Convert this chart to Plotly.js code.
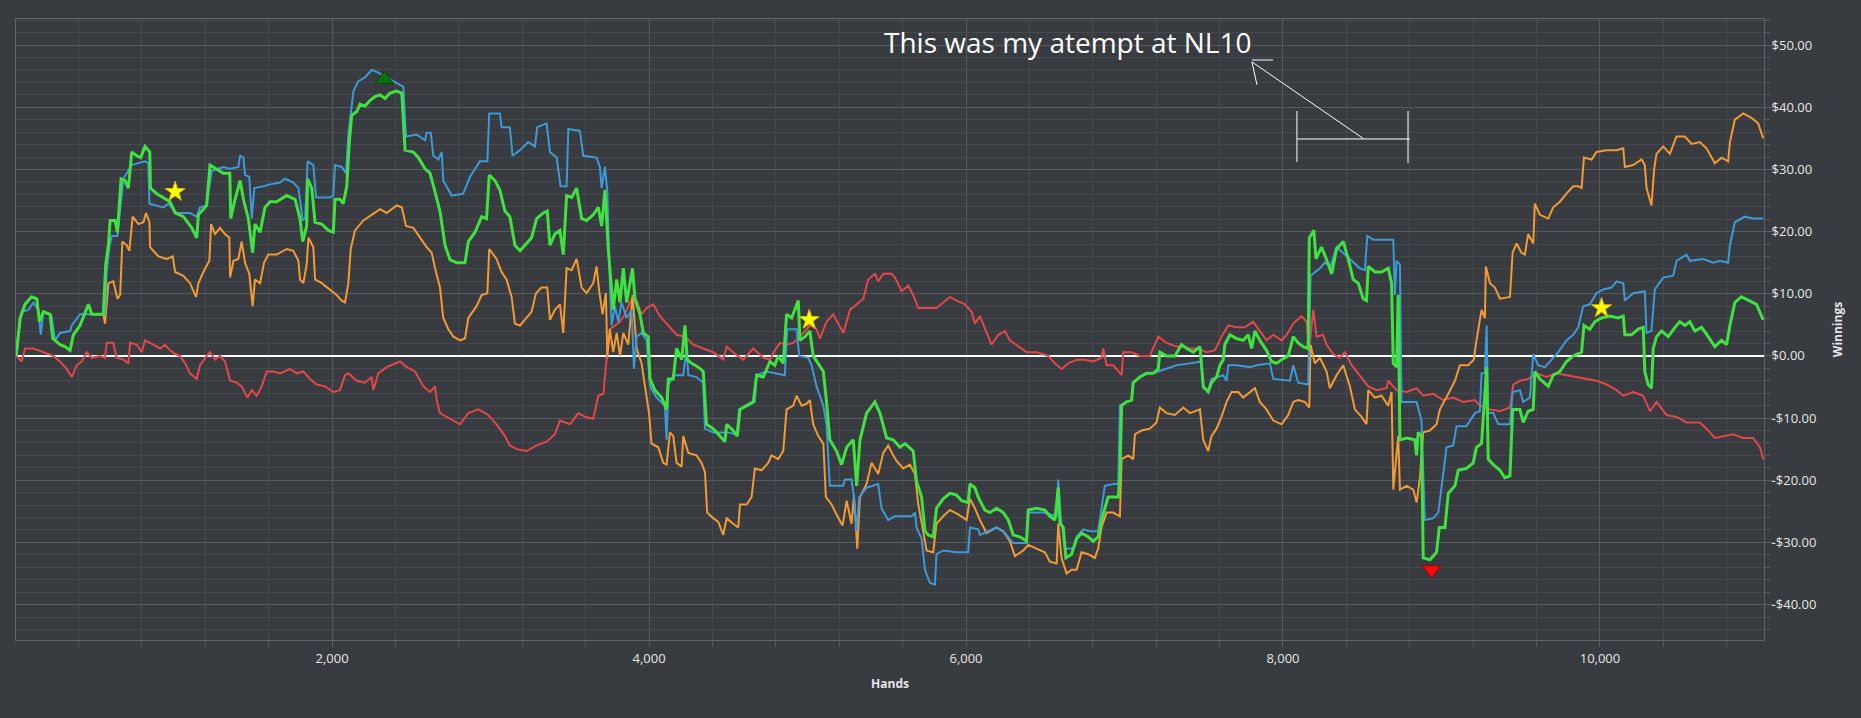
<!DOCTYPE html>
<html>
<head>
<meta charset="utf-8">
<script src="https://cdn.plot.ly/plotly-3.0.1.min.js"></script>
<style>html,body{margin:0;padding:0;background:#383b3f;}#chart{width:1861px;height:718px;}</style>
</head>
<body>
<div id="chart"></div>
<script>
// ---- data (hands, winnings in $) ----
const greenHands = [6,10,32,63,105,137,154,179,221,238,284,315,347,368,410,463,484,526,557,572,589,600,631,646,669,694,715,736,768,793,820,850,854,894,936,978,1010,1062,1115,1146,1157,1209,1230,1272,1314,1355,1361,1388,1420,1441,1472,1499,1514,1546,1577,1609,1651,1714,1767,1798,1815,1840,1846,1872,1893,1935,1977,2008,2019,2050,2071,2093,2109,2124,2156,2177,2208,2240,2271,2303,2334,2366,2408,2440,2461,2513,2545,2587,2618,2650,2681,2713,2744,2786,2839,2860,2902,2944,2975,2992,3028,3059,3091,3122,3154,3186,3228,3259,3291,3333,3358,3375,3406,3438,3459,3480,3512,3543,3575,3606,3648,3680,3701,3722,3743,3764,3774,3796,3817,3838,3859,3896,3911,3943,3964,3995,4006,4037,4080,4111,4122,4153,4174,4206,4227,4241,4269,4311,4342,4363,4405,4447,4479,4490,4531,4557,4574,4616,4658,4679,4721,4763,4794,4815,4847,4868,4900,4942,4952,4984,5015,5036,5068,5100,5120,5141,5183,5215,5247,5289,5310,5331,5373,5425,5457,5499,5541,5583,5615,5667,5688,5720,5741,5762,5793,5814,5856,5899,5941,5972,6014,6025,6056,6077,6119,6151,6193,6235,6267,6298,6340,6382,6393,6445,6498,6529,6561,6582,6593,6614,6630,6666,6698,6729,6771,6803,6834,6855,6876,6897,6961,6971,6982,7013,7045,7055,7097,7139,7181,7213,7223,7265,7318,7360,7392,7434,7476,7497,7528,7549,7581,7602,7623,7633,7665,7707,7749,7781,7802,7823,7854,7896,7928,7960,7991,8033,8065,8096,8128,8159,8166,8195,8208,8243,8275,8307,8338,8380,8412,8443,8475,8506,8527,8538,8580,8622,8664,8685,8696,8717,8727,8738,8780,8832,8843,8853,8874,8885,8927,8969,8986,9022,9043,9085,9106,9158,9200,9221,9253,9264,9285,9295,9327,9369,9400,9432,9449,9495,9516,9547,9579,9589,9621,9674,9705,9747,9789,9831,9884,9899,9936,9968,10010,10063,10115,10147,10157,10199,10241,10273,10283,10304,10325,10336,10357,10389,10431,10473,10504,10536,10567,10599,10641,10683,10725,10767,10799,10820,10851,10893,10946,10988,11030];
const greenWin = [0,0.6,6.1,8.3,9.5,9.2,5.5,7.1,6.7,2.8,1.8,1.5,0.9,3.4,4.9,8.3,6.7,6.7,6.7,14.7,17.8,21.8,21.8,19.9,28.5,28.2,27.0,32.8,32.2,31.9,33.7,32.8,27.0,26.1,25.5,24.8,23.0,22.4,20.6,19.0,22.7,24.2,30.7,30.1,29.4,29.4,22.1,25.2,28.2,25.2,22.1,16.6,21.2,19.9,23.9,24.8,24.8,25.8,25.2,22.1,18.4,20.9,28.5,27.0,21.5,21.2,20.2,19.9,25.2,25.2,24.5,27.3,34.4,38.7,39.3,40.5,40.2,41.1,41.7,42.0,41.4,42.3,42.6,42.3,33.1,32.8,31.9,30.1,29.4,26.4,23.3,17.8,15.5,15.0,15.0,18.4,19.9,22.4,22.1,29.1,28.2,26.7,23.3,22.4,17.8,16.9,18.1,19.0,22.1,23.0,23.3,17.8,19.6,20.2,16.3,25.8,25.5,27.0,22.1,21.8,22.7,23.9,20.9,26.7,17.2,11.0,7.4,12.3,8.6,14.1,8.6,14.1,9.2,6.7,3.7,3.1,-3.7,-5.5,-6.7,-8.6,-3.7,-3.7,1.2,-0.6,4.9,-0.6,-1.2,-1.8,-2.5,-11.0,-11.7,-12.9,-13.8,-11.0,-12.0,-12.9,-8.6,-8.0,-7.4,-3.1,-3.4,-0.9,-1.5,0,-1.2,6.7,6.1,8.9,2.5,3.1,4.0,0,-1.2,-2.5,-7.4,-13.5,-15.3,-17.5,-14.7,-13.5,-20.9,-13.5,-9.2,-7.4,-9.2,-13.2,-13.5,-14.7,-14.1,-15.3,-20.2,-22.7,-28.2,-28.8,-29.1,-24.5,-23.0,-22.1,-22.4,-23.3,-23.6,-20.6,-21.2,-22.7,-24.8,-25.2,-24.5,-25.2,-26.4,-28.8,-29.1,-29.8,-24.8,-24.5,-24.8,-25.8,-26.4,-21.2,-27.0,-27.6,-32.5,-31.9,-29.4,-28.5,-29.1,-29.8,-29.1,-26.4,-24.5,-22.7,-22.7,-19.0,-8.0,-7.4,-7.1,-4.3,-3.4,-2.8,-2.8,-2.1,0.6,0,0,1.8,1.2,0.6,1.5,-4.9,-5.8,-4.3,-3.4,-1.5,-0.6,1.8,3.4,2.8,2.5,3.4,1.2,4.0,2.5,0.9,-0.9,-1.2,-0.6,0,3.1,2.1,1.5,1.2,19.0,20.2,15.6,17.5,15.5,13.2,17.2,18.4,15.6,12.3,11.7,9.2,8.9,14.4,13.5,13.5,14.1,11.7,-1.2,-1.8,9.8,-13.5,-13.2,-13.5,-16.0,-12.3,-12.9,-32.5,-32.8,-31.6,-27.6,-27.6,-22.1,-20.9,-18.4,-18.1,-17.2,-14.7,-14.1,-9.2,-1.8,-16.6,-17.5,-18.4,-19.6,-19.3,-8.6,-8.6,-10.7,-8.9,-8.6,-2.5,-3.7,-4.9,-3.1,-2.5,-0.9,0,0.6,4.9,4.3,5.5,6.1,6.4,6.1,6.4,3.4,3.4,4.3,4.6,-2.5,-4.6,-5.2,1.2,3.1,4.0,3.1,4.6,5.5,4.9,5.5,4.0,4.6,3.1,1.5,2.5,1.8,4.9,8.6,9.5,8.9,8.3,5.8];

const blueHands = [6,10,42,84,116,147,162,179,231,252,284,347,358,410,494,568,578,595,610,646,684,736,820,841,848,894,936,967,1020,1104,1146,1167,1209,1241,1314,1357,1409,1420,1441,1451,1478,1493,1510,1567,1609,1672,1704,1756,1788,1815,1830,1846,1882,1899,1987,2008,2019,2061,2088,2103,2118,2135,2166,2208,2250,2282,2345,2408,2450,2467,2534,2587,2597,2623,2639,2671,2692,2702,2734,2755,2828,2870,2933,2980,2992,3059,3070,3122,3139,3186,3238,3280,3295,3354,3375,3417,3442,3480,3491,3564,3585,3669,3690,3701,3722,3737,3749,3764,3785,3806,3827,3859,3890,3905,3922,3953,3985,4006,4048,4100,4111,4122,4157,4216,4237,4248,4300,4342,4353,4405,4490,4553,4569,4626,4668,4679,4742,4794,4857,4872,4931,4948,5005,5026,5057,5100,5120,5141,5225,5236,5278,5293,5310,5326,5373,5446,5467,5509,5551,5657,5678,5688,5720,5741,5772,5804,5814,5856,5941,6014,6025,6077,6088,6193,6246,6298,6382,6393,6487,6572,6582,6597,6624,6677,6698,6740,6782,6834,6876,6929,6961,6971,6992,7013,7045,7055,7097,7139,7181,7213,7265,7329,7413,7486,7497,7528,7549,7623,7644,7655,7707,7791,7833,7917,7939,8044,8065,8096,8159,8174,8233,8264,8300,8338,8422,8485,8517,8532,8570,8696,8706,8717,8738,8748,8843,8874,8895,8948,8980,9001,9032,9074,9095,9158,9211,9242,9253,9274,9285,9295,9327,9358,9432,9449,9495,9516,9558,9579,9610,9653,9695,9737,9789,9831,9863,9894,9936,9978,10021,10073,10105,10147,10157,10210,10283,10294,10325,10346,10399,10462,10483,10546,10567,10651,10715,10757,10809,10820,10851,10914,10967,11030];
const blueWin = [0,1.8,7.1,7.4,8.6,7.4,3.4,7.1,6.4,2.5,3.7,4.0,4.9,6.7,6.7,6.7,13.5,17.5,19.3,19.3,28.5,30.7,31.3,31.0,24.5,24.2,23.9,24.5,23.0,23.0,22.4,23.9,24.2,29.8,30.4,30.1,30.4,32.2,31.9,29.1,28.8,22.1,27.0,27.3,27.6,27.9,28.5,27.9,27.0,21.8,22.1,31.3,30.7,25.5,25.5,25.8,30.7,30.4,29.4,35.6,39.3,42.6,44.2,44.8,46.0,45.7,44.8,43.9,43.3,35.3,35.6,34.7,35.9,35.9,32.2,31.6,32.8,28.2,26.7,25.8,26.1,28.8,31.3,31.3,39.0,39.0,36.8,36.8,32.2,33.1,34.4,33.7,36.8,37.4,32.8,31.9,27.3,27.3,36.5,36.2,32.2,31.9,30.4,27.0,30.4,26.4,14.7,4.9,8.0,5.5,8.6,6.1,7.4,-2.1,3.1,3.7,2.5,-4.9,-6.7,-8.0,-13.5,-4.6,-3.1,-3.1,1.2,-3.1,-3.4,-4.3,-11.7,-12.3,-12.3,-12.6,-8.6,-8.0,-7.4,-3.1,-2.5,-2.8,-3.1,4.3,4.3,0,-0.3,-1.5,-4.9,-8.0,-11.0,-20.9,-20.9,-19.9,-19.9,-22.7,-28.2,-22.7,-21.2,-20.6,-24.5,-26.4,-25.8,-25.8,-25.2,-27.6,-29.4,-34.4,-36.5,-36.8,-31.9,-31.3,-31.6,-31.6,-27.6,-27.9,-28.8,-27.6,-28.5,-30.1,-30.1,-25.2,-25.2,-25.8,-19.9,-25.8,-31.0,-31.0,-29.1,-27.9,-28.2,-28.2,-20.9,-20.6,-20.6,-8.0,-7.7,-7.4,-7.1,-4.3,-3.4,-2.8,-2.8,-2.5,-2.0,-1.5,-1.2,-0.9,-5.2,-5.5,-3.7,-3.1,-4.0,-1.5,-1.5,-1.8,-1.5,-1.2,-3.7,-4.0,-1.5,-4.3,-4.6,12.9,14.1,15.0,14.4,17.5,15.6,14.1,13.8,19.3,18.7,18.7,9.8,15.3,14.7,-7.4,-7.4,-10.4,-26.4,-26.1,-25.2,-20.9,-14.7,-14.4,-11.3,-11.3,-9.2,-8.9,-2.8,-2.8,4.9,-9.2,-9.2,-11.0,-11.0,-5.8,-5.5,-7.4,-6.7,0.3,-1.5,-1.8,-0.6,0.6,2.5,3.4,4.6,8.0,8.3,10.1,10.7,11.0,12.0,11.7,8.9,10.1,10.4,3.7,4.0,10.7,12.6,12.9,15.3,16.3,15.3,15.6,15.0,15.3,15.0,17.8,21.5,22.4,22.1,22.1];

const orangeHands = [6,10,32,63,105,137,154,179,221,238,284,315,347,368,410,463,484,526,557,568,589,620,646,663,677,705,721,742,778,810,826,848,852,904,957,995,1010,1062,1104,1142,1157,1188,1226,1237,1262,1293,1325,1352,1357,1378,1409,1430,1451,1478,1499,1514,1546,1571,1598,1651,1714,1756,1788,1798,1819,1840,1851,1882,1893,1935,1987,2029,2061,2082,2103,2118,2145,2198,2250,2303,2345,2408,2440,2467,2513,2555,2597,2629,2650,2681,2702,2734,2766,2808,2839,2860,2912,2944,2980,2992,3038,3070,3101,3133,3154,3186,3228,3259,3287,3322,3358,3375,3406,3438,3459,3480,3512,3543,3575,3606,3648,3669,3686,3707,3728,3737,3753,3774,3796,3817,3838,3869,3896,3922,3953,3974,4000,4016,4058,4090,4111,4132,4153,4174,4206,4216,4248,4300,4332,4353,4367,4405,4437,4468,4490,4531,4563,4574,4616,4647,4668,4710,4752,4773,4815,4847,4868,4910,4931,4963,4994,5015,5036,5068,5100,5116,5152,5183,5221,5247,5278,5293,5314,5331,5373,5404,5446,5478,5509,5541,5562,5604,5646,5678,5699,5730,5751,5793,5814,5856,5899,5951,6004,6025,6056,6088,6130,6193,6235,6277,6309,6361,6393,6445,6498,6529,6572,6582,6603,6635,6666,6698,6729,6771,6813,6834,6855,6887,6929,6971,6982,7024,7055,7066,7108,7160,7202,7223,7265,7318,7371,7413,7476,7497,7528,7549,7581,7612,7644,7676,7718,7749,7791,7823,7854,7896,7939,7991,8033,8065,8096,8138,8166,8174,8201,8233,8275,8296,8338,8380,8422,8454,8496,8527,8538,8580,8622,8664,8685,8696,8727,8738,8780,8822,8843,8864,8885,8927,8969,8990,9043,9085,9116,9169,9204,9221,9253,9274,9280,9306,9337,9369,9432,9449,9474,9505,9526,9547,9579,9589,9621,9674,9705,9747,9789,9831,9863,9884,9899,9947,9978,10042,10105,10147,10157,10210,10262,10283,10294,10325,10342,10357,10399,10441,10483,10536,10578,10630,10672,10725,10767,10809,10820,10851,10904,10956,10998,11030];
const orangeWin = [0,0.6,6.1,8.3,9.5,9.2,5.5,7.1,6.7,2.8,1.8,1.5,0.9,3.4,4.9,8.3,6.7,6.7,6.7,5.2,11.7,12.0,9.2,9.8,18.4,17.8,16.9,22.4,21.2,21.5,23.0,21.5,17.5,16.0,15.6,16.0,13.5,12.9,11.7,9.5,11.7,13.5,15.3,21.2,19.6,20.6,19.6,19.0,12.6,15.3,15.6,18.4,15.0,13.2,8.0,12.3,11.7,15.0,16.3,16.3,17.2,16.9,15.3,12.3,11.7,14.7,19.0,17.5,12.3,11.7,10.7,9.8,8.9,8.6,11.7,17.2,20.2,21.8,22.7,23.6,23.0,24.2,23.9,20.9,20.6,19.0,17.5,16.6,14.1,11.0,6.1,4.3,3.1,2.5,2.8,6.1,8.0,9.8,10.1,17.2,15.6,13.5,12.3,9.5,5.2,4.9,6.1,7.1,10.1,11.0,11.0,5.8,7.4,8.3,3.7,14.1,13.8,15.6,11.0,10.1,11.7,14.4,10.4,6.7,10.1,-0.3,4.3,0.6,3.7,0,3.7,1.8,9.8,1.2,-1.2,-4.9,-9.2,-14.1,-14.7,-17.2,-17.5,-12.3,-12.9,-17.2,-17.8,-12.9,-15.6,-16.0,-17.2,-18.7,-25.2,-26.1,-26.7,-28.8,-26.1,-27.0,-27.6,-23.9,-23.9,-22.7,-18.1,-18.4,-17.2,-16.0,-16.6,-15.3,-8.6,-8.0,-6.4,-8.0,-7.7,-7.1,-11.0,-12.9,-14.1,-22.7,-23.9,-25.5,-27.3,-23.3,-27.0,-22.4,-31.0,-22.7,-20.6,-17.2,-19.0,-15.6,-14.4,-16.0,-16.9,-18.1,-17.5,-19.0,-23.9,-28.2,-31.3,-31.6,-27.0,-25.8,-24.8,-25.5,-26.4,-23.0,-24.5,-26.4,-28.5,-27.6,-28.2,-29.8,-32.2,-31.3,-30.4,-31.0,-31.6,-33.1,-33.4,-27.0,-32.5,-35.0,-34.4,-34.4,-31.6,-31.9,-32.5,-31.0,-27.6,-25.2,-25.2,-25.8,-16.6,-16.0,-16.6,-12.6,-12.0,-11.7,-10.7,-8.3,-9.2,-9.5,-8.3,-9.2,-8.6,-13.5,-15.3,-12.9,-11.7,-9.8,-7.4,-5.8,-5.8,-6.7,-5.8,-5.2,-7.4,-8.6,-10.4,-11.0,-9.5,-7.4,-7.1,-7.4,-8.3,1.8,-1.2,-0.3,-2.5,-5.2,-3.1,-1.5,-4.9,-8.6,-9.8,-11.0,-5.5,-6.7,-6.4,-8.0,-5.8,-21.5,-12.9,-21.5,-20.9,-21.5,-23.6,-19.6,-12.3,-12.0,-11.0,-8.6,-6.1,-4.0,-1.5,-1.5,-0.6,2.5,7.4,6.1,14.4,11.7,11.0,9.2,9.5,16.6,18.1,16.6,16.3,19.6,18.1,24.5,22.7,22.1,23.9,24.8,26.1,27.3,27.3,27.0,31.9,31.6,32.8,33.1,33.1,33.4,30.4,30.7,31.6,30.7,27.0,24.2,30.1,32.5,33.7,32.5,35.3,35.3,34.1,34.4,33.4,31.0,31.9,31.3,34.4,38.0,39.0,38.3,37.4,35.0];

const redHands = [6,10,42,63,116,179,242,284,326,358,389,421,452,484,536,568,578,620,641,684,715,726,768,799,820,873,915,946,978,1010,1041,1073,1104,1146,1167,1209,1230,1262,1293,1325,1357,1399,1430,1466,1493,1525,1556,1588,1630,1672,1735,1777,1819,1861,1903,1956,2008,2050,2082,2103,2156,2208,2250,2261,2292,2345,2398,2429,2471,2524,2576,2618,2650,2660,2681,2744,2807,2860,2923,2986,3038,3091,3122,3165,3228,3291,3354,3406,3438,3501,3554,3596,3648,3680,3712,3732,3753,3785,3817,3848,3890,3922,3953,3985,4027,4069,4122,4174,4227,4279,4342,4405,4468,4490,4542,4595,4658,4721,4763,4794,4826,4868,4910,4952,5015,5057,5078,5120,5162,5194,5226,5268,5310,5352,5383,5425,5446,5478,5530,5552,5594,5636,5667,5699,5751,5814,5856,5899,5941,5993,6035,6056,6088,6119,6161,6204,6246,6277,6330,6382,6445,6519,6561,6603,6645,6698,6750,6803,6855,6866,6887,6929,6982,6992,7045,7097,7160,7213,7265,7329,7371,7413,7465,7518,7570,7612,7655,7707,7760,7812,7854,7896,7939,7991,8023,8065,8117,8149,8166,8191,8212,8254,8275,8317,8359,8391,8433,8485,8538,8591,8654,8664,8717,8780,8843,8885,8948,9011,9074,9137,9211,9242,9306,9369,9432,9453,9495,9547,9600,9663,9726,9789,9852,9915,9978,10042,10105,10147,10210,10273,10315,10357,10420,10483,10546,10630,10672,10725,10788,10841,10904,10967,11009,11030];
const redWin = [0,0,-0.9,1.2,1.2,0.6,0,-0.9,-2.1,-3.4,-1.5,-0.9,0.6,-0.3,0,-0.3,2.1,2.1,-0.3,-0.6,-1.2,2.1,1.8,0.6,2.5,1.8,1.2,1.8,0.9,0.3,0,-1.2,-2.8,-3.7,-1.5,0,0.6,-0.6,0,-0.9,-4.0,-4.3,-4.9,-6.7,-5.5,-6.4,-4.9,-2.5,-2.5,-2.8,-2.1,-2.8,-2.5,-3.7,-4.6,-4.9,-5.8,-5.5,-3.1,-2.8,-4.0,-4.3,-3.4,-5.5,-2.8,-1.8,-1.2,-0.9,-1.8,-2.5,-4.9,-5.8,-4.9,-7.1,-9.2,-10.1,-11.0,-9.2,-8.6,-9.5,-11.0,-12.9,-14.4,-15.0,-15.3,-14.4,-13.8,-12.6,-10.4,-11.0,-9.2,-9.8,-10.1,-6.4,-6.1,-0.6,4.3,4.9,5.5,6.7,9.2,8.9,6.7,7.7,8.3,6.4,4.9,3.4,3.1,1.8,1.2,0.6,-0.6,1.5,0.3,-0.6,1.2,-0.3,-0.6,0.9,2.1,1.8,2.1,3.1,4.9,4.3,2.8,5.5,6.7,5.2,3.7,7.4,8.3,9.2,12.3,13.2,12.0,13.2,13.2,12.6,10.4,11.3,9.8,7.7,7.7,7.7,8.6,9.5,8.9,8.3,7.1,5.2,6.4,4.3,1.8,3.4,4.0,2.5,1.5,0.6,0.6,0,-1.2,-2.1,-1.2,-0.6,-0.6,-0.9,-0.3,1.2,-1.5,-1.5,-3.1,0.6,0.6,0,0,3.1,2.1,1.5,1.5,1.2,1.2,0.6,0.9,3.1,4.9,4.6,4.6,5.5,4.0,2.5,3.4,2.5,3.4,5.2,6.4,5.5,1.2,7.4,3.1,3.4,1.8,0.3,-0.3,0.6,-1.5,-3.1,-4.9,-5.5,-5.2,-4.0,-5.5,-5.8,-5.2,-6.4,-6.1,-7.1,-6.7,-7.4,-7.1,-8.0,-8.6,-8.9,-8.3,-4.6,-4.0,-3.7,-2.8,-3.4,-2.8,-3.1,-3.4,-3.7,-4.0,-4.6,-5.5,-6.4,-5.8,-6.4,-8.9,-7.4,-9.5,-9.8,-10.7,-10.7,-11.7,-13.2,-12.9,-12.6,-13.2,-13.2,-14.7,-16.6];

// markers
const starHands = [1010, 5011, 10010];
const starWin = [26.4, 5.8, 7.7];
const peakHands = [2330];
const peakWin = [44.5];
const lowHands = [8938];
const lowWin = [-34.4];

// axis ticks
const xTickVals = [2000, 4000, 6000, 8000, 10000];
const xTickText = ['2,000', '4,000', '6,000', '8,000', '10,000'];
const yTickVals = [-40, -30, -20, -10, 0, 10, 20, 30, 40, 50];
const yTickText = ['-$40.00', '-$30.00', '-$20.00', '-$10.00', '$0.00', '$10.00', '$20.00', '$30.00', '$40.00', '$50.00'];

// hand-drawn note
const noteText = 'This was my atempt at NL10';

const BG = '#383b3f';
const FONT = 'Open Sans, Noto Sans, DejaVu Sans, sans-serif';

function lineTrace(x, y, color, width) {
  return {x: x, y: y, type: 'scatter', mode: 'lines', line: {color: color, width: width}, hoverinfo: 'skip'};
}

const traces = [
  lineTrace(redHands, redWin, '#e2474b', 2),
  lineTrace(orangeHands, orangeWin, '#f29a33', 2),
  lineTrace(blueHands, blueWin, '#3c9ad8', 2),
  lineTrace(greenHands, greenWin, '#3fe23f', 3),
  {x: starHands, y: starWin, type: 'scatter', mode: 'markers', hoverinfo: 'skip',
   marker: {symbol: 'star', size: 15, color: '#ffff00', line: {color: '#d6c200', width: 1}}},
  {x: peakHands, y: peakWin, type: 'scatter', mode: 'markers', hoverinfo: 'skip',
   marker: {symbol: 'triangle-up', size: 16, color: '#0b730b', line: {color: '#064a06', width: 1}}},
  {x: lowHands, y: lowWin, type: 'scatter', mode: 'markers', hoverinfo: 'skip',
   marker: {symbol: 'triangle-down', size: 16, color: '#ff0a0a', line: {color: '#a00000', width: 1}}}
];

function seg(x0, y0, x1, y1) {
  return {type: 'line', xref: 'x', yref: 'y', x0: x0, y0: y0, x1: x1, y1: y1, line: {color: '#ffffff', width: 1}};
}

const layout = {
  width: 1861, height: 718,
  paper_bgcolor: BG, plot_bgcolor: BG,
  margin: {l: 16, r: 97, t: 19, b: 78},
  showlegend: false,
  font: {family: FONT, color: '#e6e6e6'},
  xaxis: {
    range: [6, 11035],
    tickmode: 'array', tickvals: xTickVals, ticktext: xTickText,
    ticks: 'outside', ticklen: 6, tickcolor: '#5c5f63',
    tickfont: {family: FONT, size: 13, color: '#e6e6e6'},
    showgrid: true, gridcolor: '#55585c', gridwidth: 1,
    showline: true, linecolor: '#5f6266', linewidth: 1, mirror: true,
    zeroline: false,
    minor: {tickmode: 'linear', tick0: 0, dtick: 400, showgrid: true, gridcolor: '#46494d', gridwidth: 1,
            ticks: 'outside', ticklen: 6, tickcolor: '#55585c'},
    title: {text: '<b>Hands</b>', font: {family: FONT, size: 12, color: '#e6e6e6'}, standoff: 14},
    automargin: false
  },
  yaxis: {
    side: 'right',
    range: [-45.7, 54.2],
    tickmode: 'array', tickvals: yTickVals, ticktext: yTickText,
    ticks: 'outside', ticklen: 10, tickcolor: '#5c5f63',
    ticklabelstandoff: -6,
    tickfont: {family: FONT, size: 13, color: '#e6e6e6'},
    showgrid: true, gridcolor: '#56595d', gridwidth: 1,
    showline: true, linecolor: '#5f6266', linewidth: 1, mirror: true,
    zeroline: true, zerolinecolor: '#ffffff', zerolinewidth: 2.5,
    minor: {tickmode: 'linear', tick0: 0, dtick: 2, showgrid: true, gridcolor: '#46494d', gridwidth: 1,
            ticks: 'outside', ticklen: 5, tickcolor: '#55585c'},
    title: {text: '<b>Winnings</b>', font: {family: FONT, size: 12, color: '#e6e6e6'}, standoff: 18},
    automargin: false
  },
  annotations: [
    {x: 6640, y: 50.5, xref: 'x', yref: 'y', text: noteText, showarrow: false,
     xanchor: 'center', yanchor: 'middle', font: {family: FONT, size: 28, color: '#ffffff'}}
  ],
  shapes: [
    seg(8505, 35.0, 7804, 47.3),
    seg(7804, 47.6, 7937, 47.6),
    seg(7804, 47.3, 7836, 43.6),
    seg(8088, 39.4, 8088, 31.2),
    seg(8789, 39.4, 8789, 31.0),
    seg(8088, 34.9, 8801, 34.9)
  ]
};

Plotly.newPlot('chart', traces, layout, {staticPlot: true, displayModeBar: false});
</script>
</body>
</html>
